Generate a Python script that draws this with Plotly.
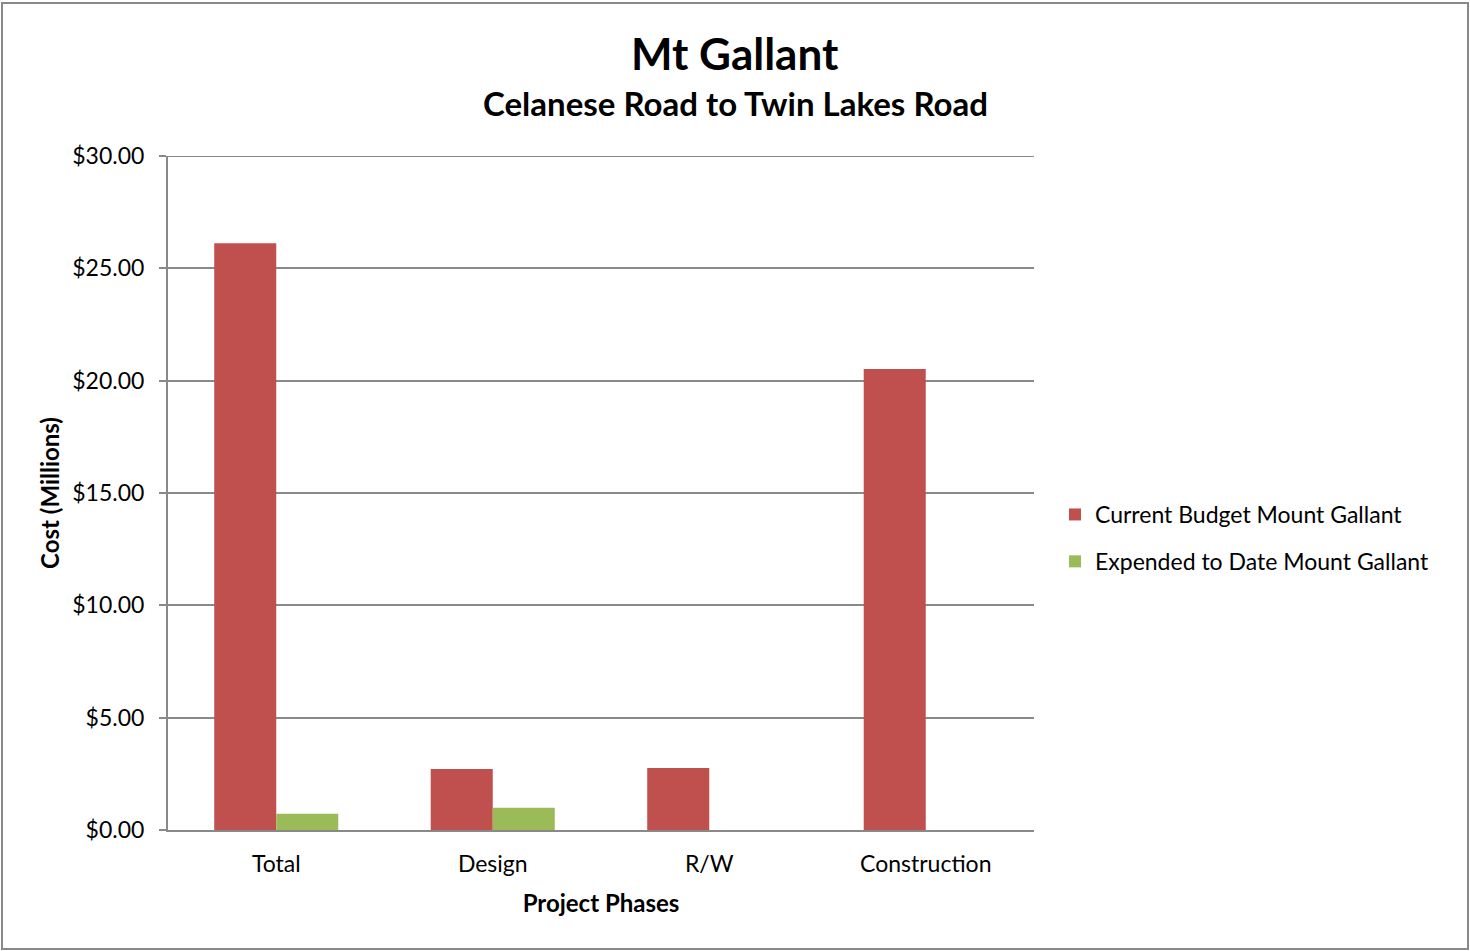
import plotly.graph_objects as go

categories = ["Total", "Design", "R/W", "Construction"]
current_budget = [26.12, 2.72, 2.76, 20.52]
expended = [0.72, 0.99, 0.0, 0.0]
series_names = ["Current Budget Mount Gallant", "Expended to Date Mount Gallant"]
colors = ["#C0504D", "#9BBB59"]
y_ticks = [0, 5, 10, 15, 20, 25, 30]
y_tick_labels = ["$0.00", "$5.00", "$10.00", "$15.00", "$20.00", "$25.00", "$30.00"]

FONT = "Lato"
W, H = 1470, 951
L, R, T, B = 168, 436, 156, 121
pw = W - L - R
ph = H - T - B


def px_x(x):
    return (x - L) / pw


def px_y(y):
    return (H - B - y) / ph


fig = go.Figure()
fig.add_trace(go.Bar(x=categories, y=current_budget, name=series_names[0],
                     marker=dict(color=colors[0], line=dict(width=0)), legendgroup="a"))
fig.add_trace(go.Bar(x=categories, y=expended, name=series_names[1],
                     marker=dict(color=colors[1], line=dict(width=0)), legendgroup="b"))

fig.update_layout(
    width=W, height=H,
    paper_bgcolor="white", plot_bgcolor="white",
    margin=dict(l=L, r=R, t=T, b=B),
    barmode="group", bargap=0.427, bargroupgap=0,
    font=dict(family=FONT, color="black", size=23),
    showlegend=True,
    legend=dict(x=px_x(1055), y=px_y(538), xanchor="left", yanchor="middle",
                font=dict(size=23, family=FONT), tracegroupgap=14,
                traceorder="grouped", itemwidth=30),
    xaxis=dict(showline=True, linecolor="#898989", linewidth=2,
               ticks="", tickfont=dict(size=23), showgrid=False,
               ticklabelstandoff=12,
               title=dict(text="<b>Project Phases</b>", font=dict(size=24), standoff=20)),
    yaxis=dict(range=[0, 30], tickvals=y_ticks, ticktext=y_tick_labels,
               showline=True, linecolor="#898989", linewidth=2,
               ticks="outside", ticklen=7, tickcolor="#898989", tickwidth=2,
               showgrid=True, gridcolor="#898989", gridwidth=2,
               tickfont=dict(size=23), zeroline=False, ticklabelstandoff=10,
               title=dict(text="<b>Cost (Millions)</b>", font=dict(size=24), standoff=6)),
    annotations=[
        dict(text="<b>Mt Gallant</b>", x=px_x(735), y=px_y(53), xref="paper", yref="paper",
             xanchor="center", yanchor="middle",
             showarrow=False, font=dict(size=44, family=FONT)),
        dict(text="<b>Celanese Road to Twin Lakes Road</b>", x=px_x(735), y=px_y(103),
             xref="paper", yref="paper", xanchor="center", yanchor="middle",
             showarrow=False, font=dict(size=33, family=FONT)),
    ],
    shapes=[
        dict(type="rect", xref="paper", yref="paper",
             x0=px_x(2), x1=px_x(1468), y0=px_y(949), y1=px_y(3),
             line=dict(color="#898989", width=2), layer="below"),
        dict(type="line", xref="paper", yref="y", x0=0, x1=1, y0=30, y1=30,
             line=dict(color="#898989", width=2), layer="below"),
        dict(type="line", xref="paper", yref="paper", x0=px_x(161), x1=0, y0=0, y1=0,
             line=dict(color="#898989", width=2)),
    ],
)

fig.write_html("out.html", config={"displayModeBar": False},
               post_script="document.body.style.margin='0px';")
